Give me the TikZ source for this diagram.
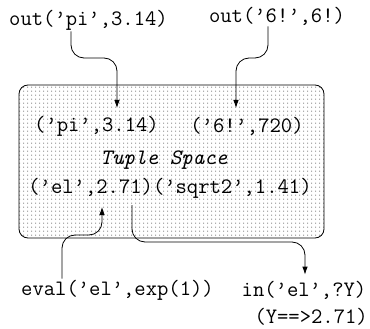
\documentclass[tikz,border=0pt]{standalone}
\usepackage{fontspec}
\usetikzlibrary{patterns.meta,positioning,arrows.meta}

\tikzdeclarepattern{
  name=tsdots,
  type=uncolored,
  bottom left={(0pt,0pt)},
  top right={(3.7pt,4.4pt)},
  tile size={(3.7pt,4.4pt)},
  code={\pgfpathcircle{\pgfpoint{1.85pt}{2.2pt}}{0.55pt}\pgfusepath{fill}}
}

\tikzset{
  code/.style={font=\ttfamily\fontsize{22}{24}\selectfont, inner sep=1pt},
  tsbox/.style={draw, thick, rounded corners=9pt, pattern=tsdots, pattern color=black!75},
  flow/.style={-{Latex[length=8pt,width=5.5pt]}, thick, rounded corners=13pt}
}

\begin{document}
\begin{tikzpicture}[x=1pt, y=-1pt]
  \useasboundingbox (0,0) rectangle (370,329);
  % the tuple space
  \node[tsbox, minimum width=305pt, minimum height=153pt] (space) at (171.5,161.5) {};
  \node[code] (pitup) at (96.5,126) {(’pi’,3.14)};
  \node[code] (sixtup) at (247,126) {(’6!’,720)};
  \node[code, font=\ttfamily\itshape\fontsize{22}{24}\selectfont] (tsname) at (164,160) {Tuple Space};
  \node[code] (rowtup) at (170,188) {(’el’,2.71)(’sqrt2’,1.41)};
  % operations
  \node[code] (outpi) at (88.5,20) {out(’pi’,3.14)};
  \node[code] (outsix) at (277,16) {out(’6!’,6!)};
  \node[code] (evalop) at (117.5,290) {eval(’el’,exp(1))};
  \node[code] (inop) at (304,290) {in(’el’,?Y)};
  \node[code, anchor=east] (result) at (369,317) {(Y==>2.71)};
  % arrow ends inside the box
  \coordinate (pitip) at (117,108);
  \coordinate (sixtip) at (236,108);
  \coordinate (eltip) at (102,207);
  \coordinate (elsrc) at (132,205);
  \coordinate (topmid) at (0,58);
  \coordinate (lowmid) at (0,235);
  \coordinate (inmid) at (0,242);
  \draw[flow] ([xshift=-17.5pt]outpi.south) |- (pitip |- topmid) -- (pitip);
  \draw[flow] ([xshift=-9pt]outsix.south) |- (sixtip |- topmid) -- (sixtip);
  \draw[flow] ([xshift=-55.5pt]evalop.north) |- (eltip |- lowmid) -- (eltip);
  \draw[flow] (elsrc) |- ([xshift=1pt]inop.north |- inmid) -- ([xshift=1pt,yshift=5pt]inop.north);
\end{tikzpicture}
\end{document}
